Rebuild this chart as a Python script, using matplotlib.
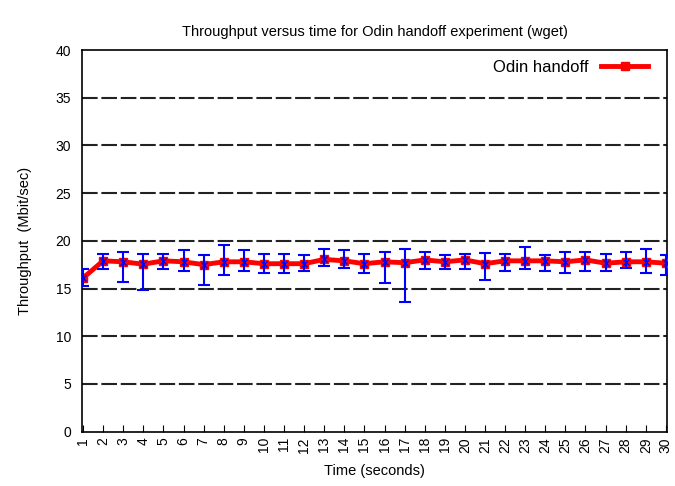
import matplotlib
matplotlib.use("Agg")
import matplotlib.pyplot as plt
import numpy as np

plt.rcParams['font.family'] = ['Liberation Sans', 'DejaVu Sans']

# --- data ---
time_s = list(range(1, 31))
throughput = [16.1, 17.9, 17.8, 17.55, 17.9, 17.8, 17.5, 17.8, 17.8, 17.6,
              17.6, 17.6, 18.05, 17.9, 17.6, 17.8, 17.7, 18.0, 17.8, 18.0,
              17.6, 17.9, 17.9, 17.9, 17.8, 18.0, 17.65, 17.8, 17.8, 17.65]
err_hi = [17.0, 18.6, 18.85, 18.6, 18.6, 19.06, 18.5, 19.55, 19.06, 18.6,
          18.6, 18.5, 19.1, 19.06, 18.6, 18.85, 19.1, 18.85, 18.5, 18.6,
          18.7, 18.6, 19.3, 18.5, 18.85, 18.85, 18.6, 18.85, 19.1, 18.5]
err_lo = [15.3, 17.0, 15.7, 14.8, 17.0, 16.8, 15.4, 16.4, 16.8, 16.6,
          16.6, 16.8, 17.35, 17.2, 16.6, 15.6, 13.6, 17.0, 17.0, 17.0,
          15.9, 16.8, 17.0, 16.8, 16.6, 16.8, 16.8, 17.2, 16.6, 16.4]

y = np.array(throughput)
yerr = [y - np.array(err_lo), np.array(err_hi) - y]

fig = plt.figure(figsize=(6.75, 4.86), dpi=100)
ax = fig.add_axes([0.1215, 0.112, 0.8665, 0.785])

# dashed horizontal grid
for g in range(5, 40, 5):
    ax.axhline(g, color='#222222', linestyle=(0, (7.5, 1.8)), linewidth=1.5, zorder=1)

ax.plot(time_s, throughput, color='red', linewidth=3.5, marker='s', markersize=6,
        label='Odin handoff', zorder=3)
ax.errorbar(time_s, throughput, yerr=yerr, fmt='x', color='blue', ecolor='blue',
            elinewidth=1.5, capsize=4, capthick=1.5, markersize=5, zorder=4)

ax.set_xlim(0.95, 30.05)
ax.set_ylim(0, 40)
ax.set_xticks(time_s)
ax.set_xticklabels([str(t) for t in time_s], rotation=90)
ax.set_yticks(range(0, 45, 5))
ax.tick_params(axis='x', labelsize=10, direction='in', length=5, pad=4)
ax.tick_params(axis='y', labelsize=10, length=0, pad=8)
for s in ax.spines.values():
    s.set_linewidth(1.2)

ax.set_xlabel('Time (seconds)', fontsize=10.5, labelpad=8)
ax.set_ylabel('Throughput  (Mbit/sec)', fontsize=10.5, labelpad=17)
ax.set_title('Throughput versus time for Odin handoff experiment (wget)', fontsize=10.5, pad=10)

ax.legend(loc='upper right', frameon=False, markerfirst=False, fontsize=12,
          handlelength=2.8, borderaxespad=0.2, bbox_to_anchor=(0.985, 1.0))

fig.savefig('out.png', dpi=100)
